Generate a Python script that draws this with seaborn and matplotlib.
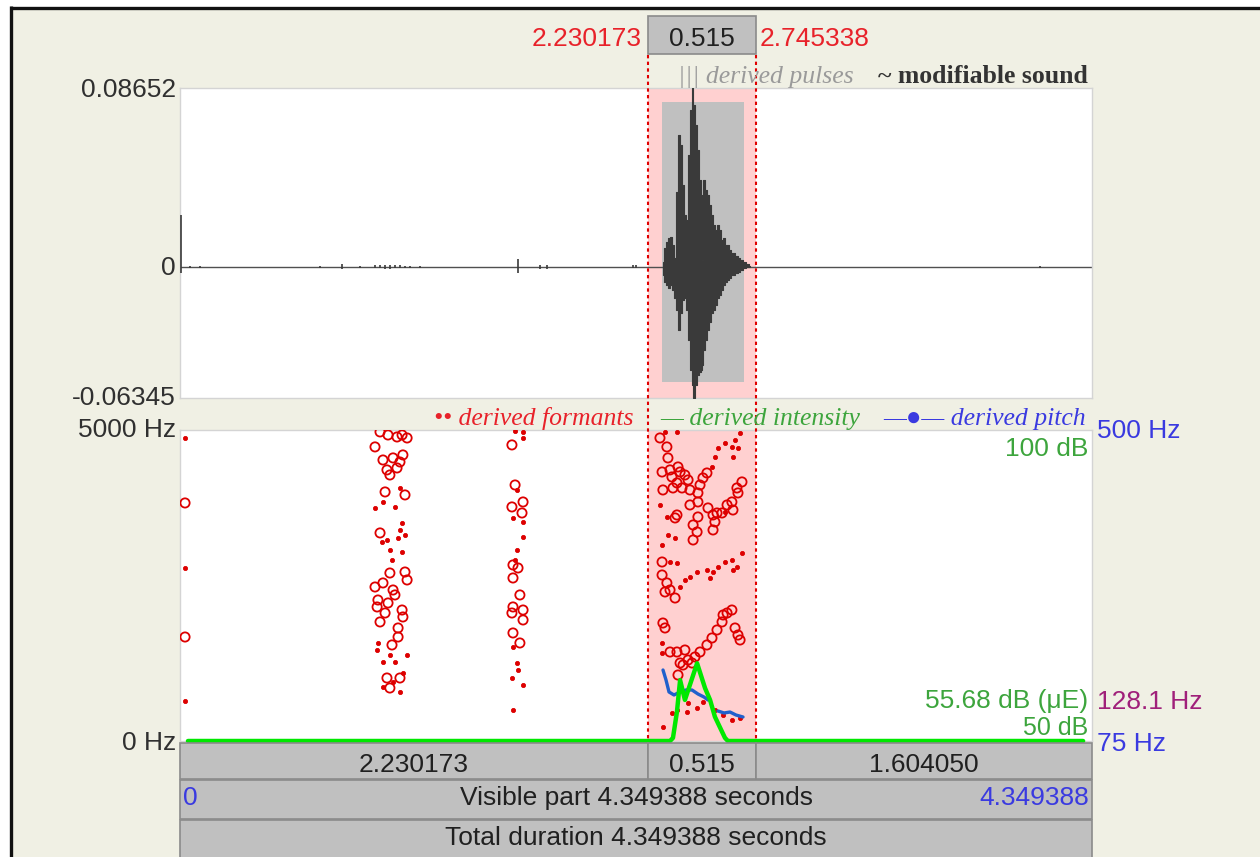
import numpy as np
import matplotlib
matplotlib.use("Agg")
import matplotlib.pyplot as plt
import matplotlib.transforms as mtransforms
from matplotlib.patches import Rectangle
import seaborn as sns

# ---------------- time domain ----------------
total_dur = 4.349388
sel_start = 2.230173
sel_end = 2.745338

# ---------------- waveform ----------------
wave_max = 0.08652
wave_min = -0.06345

burst_t = [2.303, 2.313, 2.322, 2.332, 2.342, 2.351, 2.361, 2.370, 2.380, 2.389,
           2.399, 2.408, 2.418, 2.427, 2.437, 2.442, 2.451, 2.461, 2.470, 2.480,
           2.489, 2.494, 2.499, 2.509, 2.518, 2.528, 2.537, 2.547, 2.556, 2.566,
           2.575, 2.585, 2.594, 2.604, 2.613, 2.623, 2.637, 2.652, 2.666, 2.680,
           2.694, 2.709, 2.718]
burst_hi = [0.0025, 0.0091, 0.0121, 0.0138, 0.0144, 0.0105, 0.0043, 0.0362, 0.0638, 0.0589,
            0.0396, 0.0251, 0.0226, 0.0541, 0.0759, 0.0865, 0.0783, 0.0686, 0.0565, 0.0420,
            0.0348, 0.0033, 0.0420, 0.0372, 0.0348, 0.0299, 0.0251, 0.0202, 0.0178, 0.0202,
            0.0178, 0.0130, 0.0139, 0.0105, 0.0105, 0.0081, 0.0067, 0.0052, 0.0043, 0.0033,
            0.0023, 0.0014, 0.0004]
burst_lo = [-0.0040, -0.0074, -0.0088, -0.0103, -0.0088, -0.0112, -0.0151, -0.0209, -0.0306, -0.0224,
            -0.0161, -0.0151, -0.0209, -0.0354, -0.0499, -0.0572, -0.0634, -0.0572, -0.0523, -0.0509,
            -0.0499, -0.0475, -0.0403, -0.0354, -0.0306, -0.0267, -0.0224, -0.0209, -0.0185, -0.0151,
            -0.0136, -0.0112, -0.0088, -0.0074, -0.0064, -0.0054, -0.0040, -0.0030, -0.0025, -0.0015,
            -0.0006, -0.0002, 0.0]

click_t = [0.005, 0.048, 0.095, 0.668, 0.773, 0.858, 0.930, 0.954, 0.978, 1.001,
           1.025, 1.049, 1.073, 1.097, 1.145, 1.612, 1.717, 1.750, 2.160, 2.175, 4.101]
click_hi = [0.0250, 0.0006, 0.0005, 0.0005, 0.0012, 0.0005, 0.0007, 0.0008, 0.0009, 0.0009,
            0.0008, 0.0007, 0.0006, 0.0005, 0.0004, 0.0040, 0.0010, 0.0010, 0.0008, 0.0008, 0.0006]
click_lo = [-0.0030, -0.0006, -0.0005, -0.0005, -0.0012, -0.0005, -0.0007, -0.0008, -0.0009, -0.0009,
            -0.0008, -0.0007, -0.0006, -0.0005, -0.0004, -0.0030, -0.0010, -0.0010, -0.0008, -0.0008, -0.0006]

# voiced stretch shown as the grey pulse box
pulse_box_t = [2.299, 2.690]
pulse_box_amp = [-0.0557, 0.0797]

# ---------------- formants (Hz) ----------------
fmax = 5000

onset_big_t = [0.024, 0.024]
onset_big_hz = [3827, 1672]
onset_small_t = [0.024, 0.024, 0.024]
onset_small_hz = [4872, 2782, 643]

burst1_big_t = [0.954, 0.992, 1.035, 1.083, 0.930, 1.059, 0.968, 1.016, 1.063, 1.049,
                0.987, 1.035, 1.001, 0.978, 1.073, 0.954, 1.001, 1.073, 1.083, 0.930,
                0.968, 1.016, 0.944, 0.992, 0.940, 1.059, 0.978, 1.063, 0.954, 1.025,
                1.040, 1.040, 1.011, 0.987, 1.049, 1.001]
burst1_big_hz = [4969, 4920, 4888, 4872, 4728, 4920, 4518, 4551, 4599, 4486,
                 4358, 4390, 4277, 4004, 3956, 3345, 2701, 2717, 2589, 2476,
                 2541, 2428, 2267, 2219, 2155, 2106, 2058, 1994, 1914, 2348,
                 1817, 1672, 1544, 1013, 1013, 852]
burst1_small_t = [0.930, 1.025, 0.968, 1.049, 1.059, 0.987, 1.040, 1.073, 0.963, 1.001,
                  1.059, 1.049, 1.011, 0.944, 0.940, 1.001, 1.083, 0.968, 1.025, 1.016,
                  0.968, 1.049, 1.063]
burst1_small_hz = [3747, 3763, 3843, 4068, 3505, 3232, 3264, 3313, 3200, 3071,
                   3039, 3393, 2910, 1576, 1463, 1383, 1383, 1270, 1270, 949,
                   868, 788, 1093]

burst2_big_t = [1.583, 1.598, 1.583, 1.636, 1.631, 1.588, 1.612, 1.588, 1.621, 1.588,
                1.583, 1.636, 1.636, 1.588, 1.621]
burst2_big_hz = [4760, 4116, 3763, 3843, 3666, 2830, 2782, 2621, 2348, 2155,
                 2058, 2106, 1946, 1737, 1576]
burst2_small_t = [1.598, 1.636, 1.636, 1.607, 1.588, 1.636, 1.636, 1.607, 1.598, 1.588,
                  1.607, 1.612, 1.583, 1.636, 1.588]
burst2_small_hz = [4990, 4969, 4872, 4036, 3586, 3522, 3280, 3071, 2910, 1512,
                   1254, 1142, 1013, 900, 498]

vowel_big_t = [2.289, 2.322, 2.327, 2.299, 2.337, 2.346, 2.375, 2.385, 2.408, 2.423,
               2.303, 2.351, 2.394, 2.432, 2.370, 2.470, 2.480, 2.494, 2.513, 2.680,
               2.656, 2.661, 2.432, 2.470, 2.518, 2.542, 2.561, 2.585, 2.609, 2.632,
               2.637, 2.551, 2.542, 2.470, 2.447, 2.466, 2.447, 2.370, 2.361, 2.299,
               2.299, 2.322, 2.337, 2.361, 2.313, 2.303, 2.313, 2.337, 2.370, 2.408,
               2.385, 2.423, 2.456, 2.480, 2.513, 2.537, 2.561, 2.585, 2.609, 2.632,
               2.590, 2.647, 2.661, 2.671, 2.375, 2.399, 2.442]
vowel_big_hz = [4872, 4728, 4551, 4325, 4358, 4245, 4406, 4325, 4277, 4197,
                4036, 4068, 4068, 4036, 4149, 3988, 4116, 4229, 4309, 4165,
                4068, 3988, 3795, 3843, 3747, 3634, 3666, 3666, 3795, 3843,
                3714, 3522, 3393, 3602, 3473, 3361, 3232, 3634, 3586, 2878,
                2669, 2541, 2428, 2299, 2396, 1897, 1817, 1431, 1431, 1463,
                1254, 1302, 1351, 1431, 1544, 1656, 1785, 1914, 2058, 2106,
                2026, 1817, 1704, 1624, 1061, 1222, 1254]
vowel_small_t = [2.313, 2.370, 2.537, 2.551, 2.566, 2.599, 2.632, 2.647, 2.671, 2.637,
                 2.661, 2.599, 2.289, 2.322, 2.327, 2.361, 2.299, 2.337, 2.370, 2.385,
                 2.408, 2.432, 2.466, 2.513, 2.542, 2.566, 2.599, 2.632, 2.656, 2.680,
                 2.637, 2.528, 2.299, 2.299, 2.303, 2.346, 2.370, 2.418, 2.466, 2.494,
                 2.518, 2.551, 2.590, 2.632, 2.671, 2.423]
vowel_small_hz = [4969, 4969, 4406, 4567, 4711, 4792, 4728, 4840, 4953, 4567,
                  4711, 3682, 3795, 3602, 3313, 3264, 3152, 2878, 2862, 2476,
                  2589, 2637, 2717, 2750, 2717, 2798, 2878, 2910, 2798, 3023,
                  2750, 2621, 1576, 1415, 225, 450, 498, 466, 531, 627,
                  691, 498, 418, 338, 370, 611]

# ---------------- intensity (dB) ----------------
int_range = (50, 100)
int_mean_label = "55.68 dB (\u03bcE)"
int_t = [0.038, 2.337, 2.351, 2.370, 2.385, 2.408, 2.466, 2.504, 2.528, 2.551, 2.599, 2.613, 4.307]
int_db = [50.0, 50.0, 50.5, 54.7, 59.8, 56.6, 62.5, 58.5, 56.6, 53.9, 50.5, 50.0, 50.0]

# ---------------- pitch (Hz) ----------------
pitch_range = (75, 500)
pitch_mean = 128.1
pitch1_t = [2.3035, 2.3178, 2.3321, 2.3559, 2.3846, 2.4132, 2.4418, 2.4704, 2.4990, 2.5181]
pitch1_hz = [172.0, 158.4, 142.0, 137.9, 142.0, 144.7, 144.7, 139.2, 135.1, 131.0]
pitch2_t = [2.5658, 2.5944, 2.6230, 2.6516, 2.6850]
pitch2_hz = [116.0, 113.3, 114.6, 110.5, 107.8]

# ---------------- styling ----------------
BEIGE = "#F0F0E4"
RED = "#DD0000"
SEL_FILL = "#FFD0D0"
GREEN_LINE = "#00E800"
PITCH_BLUE = "#2160CC"
WAVE_COL = "#3A3A3A"
BOX_GRAY = "#C0C0C0"
LABEL = "#303030"
TXT_RED = "#E8222A"
TXT_GREEN = "#3DA53D"
TXT_BLUE = "#3A3AE0"
TXT_PURPLE = "#A0207A"
BAR_GRAY = "#C0C0C0"
BAR_EDGE = "#8A8A8A"

sns.set_style("white")
plt.rcParams["font.family"] = ["Liberation Sans", "DejaVu Sans"]
SANS = ["Liberation Sans", "DejaVu Sans"]
SERIF = ["Liberation Serif", "DejaVu Sans"]
FS = 19

W, H = 1260, 857
fig = plt.figure(figsize=(W / 100, H / 100), dpi=100)
fig.patch.set_facecolor("white")


def px_axes(x0, y0, x1, y1, **kw):
    return fig.add_axes([x0 / W, 1 - y1 / H, (x1 - x0) / W, (y1 - y0) / H], **kw)


# window background and frame
bg = fig.add_axes([0, 0, 1, 1], zorder=-10)
bg.set_xlim(0, W)
bg.set_ylim(H, 0)
bg.axis("off")
bg.add_patch(Rectangle((11, 7), W, H, facecolor=BEIGE, edgecolor="none"))
bg.plot([11, 11], [6, H], color="#111111", lw=2.4, solid_capstyle="butt")
bg.plot([10, W], [7.5, 7.5], color="#111111", lw=2.4, solid_capstyle="butt")


def style_panel(ax):
    ax.set_facecolor("white")
    ax.set_xticks([])
    ax.set_yticks([])
    for s in ax.spines.values():
        s.set_color("#D4D4D4")
        s.set_linewidth(1.0)


# ---------------- waveform panel ----------------
ax_wave = px_axes(180, 88, 1092, 398)
style_panel(ax_wave)
ax_wave.axvspan(sel_start, sel_end, color=SEL_FILL, lw=0, zorder=0.5)
ax_wave.fill_between(pulse_box_t, pulse_box_amp[0], pulse_box_amp[1], color=BOX_GRAY, lw=0, zorder=1)
ax_wave.axhline(0, color="#505050", lw=1.0, zorder=2)
ax_wave.fill_between(burst_t, burst_lo, burst_hi, step="mid", color=WAVE_COL, lw=0.8,
                     edgecolor=WAVE_COL, zorder=3)
ax_wave.vlines(click_t, click_lo, click_hi, color=WAVE_COL, lw=1.2, zorder=3)
ax_wave.set_xlim(0, total_dur)
ax_wave.set_ylim(wave_min, wave_max)

# ---------------- analysis panel ----------------
ax_form = px_axes(180, 430, 1092, 741)
style_panel(ax_form)
ax_form.axvspan(sel_start, sel_end, color=SEL_FILL, lw=0, zorder=0.5)

big_t = onset_big_t + burst1_big_t + burst2_big_t + vowel_big_t
big_hz = onset_big_hz + burst1_big_hz + burst2_big_hz + vowel_big_hz
small_t = onset_small_t + burst1_small_t + burst2_small_t + vowel_small_t
small_hz = onset_small_hz + burst1_small_hz + burst2_small_hz + vowel_small_hz

sns.scatterplot(x=big_t, y=big_hz, ax=ax_form, s=44, marker="o", color=RED,
                facecolor="none", edgecolor=RED, linewidth=1.3, zorder=3)
sns.scatterplot(x=small_t, y=small_hz, ax=ax_form, s=9, marker="o", color=RED,
                edgecolor=RED, linewidth=0.6, zorder=3)
ax_form.set_xlim(0, total_dur)
ax_form.set_ylim(0, fmax)
ax_form.set_xticks([])
ax_form.set_yticks([])
ax_form.set_xlabel("")
ax_form.set_ylabel("")


def overlay_twin(ax):
    tw = ax.twinx()
    tw.patch.set_alpha(0)
    for s in tw.spines.values():
        s.set_visible(False)
    return tw


ax_pitch = overlay_twin(ax_form)
sns.lineplot(x=pitch1_t, y=pitch1_hz, ax=ax_pitch, color=PITCH_BLUE, linewidth=2.4,
             estimator=None, sort=False)
sns.lineplot(x=pitch2_t, y=pitch2_hz, ax=ax_pitch, color=PITCH_BLUE, linewidth=2.4,
             estimator=None, sort=False)
ax_pitch.set_ylim(*pitch_range)
ax_pitch.set_xlim(0, total_dur)

ax_int = overlay_twin(ax_form)
sns.lineplot(x=int_t, y=int_db, ax=ax_int, color=GREEN_LINE, linewidth=3.2,
             estimator=None, sort=False, clip_on=False)
ax_int.set_ylim(*int_range)
ax_int.set_xlim(0, total_dur)

for a in (ax_pitch, ax_int):
    a.set_xticks([])
    a.set_yticks([])
    a.set_xlabel("")
    a.set_ylabel("")

# ---------------- foreground: text, selection markers, duration bars ----------------
fg = fig.add_axes([0, 0, 1, 1], zorder=10)
fg.set_xlim(0, W)
fg.set_ylim(H, 0)
fg.axis("off")
fg.patch.set_alpha(0)

tx = mtransforms.blended_transform_factory(ax_wave.transData, fg.transData)


def shifted(dx):
    return mtransforms.offset_copy(tx, fig=fig, x=dx, y=0, units="dots")


def sans(x, y, s, color=LABEL, ha="left", transform=None, size=FS):
    fg.text(x, y, s, color=color, ha=ha, va="baseline", fontsize=size, zorder=8,
            family=SANS, transform=transform if transform is not None else fg.transData)


def serif(x, y, s, color, ha="left", style="italic", weight="normal", size=18.5):
    fg.text(x, y, s, color=color, ha=ha, va="baseline", fontsize=size, zorder=8,
            family=SERIF, style=style, weight=weight)


# selection boundaries
for t in (sel_start, sel_end):
    fg.plot([t, t], [55, 741], transform=tx, color="#E00000", lw=1.5,
            linestyle=(0, (1.6, 1.6)), zorder=5)

# top selection readout
fg.add_patch(Rectangle((sel_start, 16), sel_end - sel_start, 38, transform=tx,
                       facecolor=BAR_GRAY, edgecolor=BAR_EDGE, lw=1.2, zorder=4))
sans(sel_start, 46, f"{sel_start:.6f}", TXT_RED, "right", shifted(-6))
sans((sel_start + sel_end) / 2, 46, f"{sel_end - sel_start:.3f}", "#202020", "center", tx)
sans(sel_end, 46, f"{sel_end:.6f}", TXT_RED, "left", shifted(4))

# layer titles
serif(678, 83, "||| derived pulses", "#9A9A9A")
serif(1088, 83, "~ modifiable sound", "#333333", ha="right", style="normal", weight="bold")
serif(633, 425, "\u2022\u2022 derived formants", TXT_RED, ha="right")
serif(660, 425, "\u2014 derived intensity", TXT_GREEN)
serif(1086, 425, "\u2014\u25cf\u2014 derived pitch", TXT_BLUE, ha="right")

# left axis labels
sans(176, 97, f"{wave_max:.5f}", ha="right")
sans(176, 275, "0", ha="right")
sans(176, 405, f"{wave_min:.5f}", ha="right")
sans(176, 437, f"{fmax} Hz", ha="right")
sans(176, 750, "0 Hz", ha="right")

# right axis labels
sans(1097, 438, f"{pitch_range[1]} Hz", TXT_BLUE)
sans(1088, 456, f"{int_range[1]} dB", TXT_GREEN, "right")
sans(1088, 708, int_mean_label, TXT_GREEN, "right")
sans(1088, 735, f"{int_range[0]} dB", TXT_GREEN, "right", size=18)
sans(1097, 709, f"{pitch_mean} Hz", TXT_PURPLE)
sans(1097, 751, f"{pitch_range[0]} Hz", TXT_BLUE)

# duration bars
segments = [(0, sel_start), (sel_start, sel_end), (sel_end, total_dur)]
for a, b in segments:
    fg.add_patch(Rectangle((a, 743), b - a, 36, transform=tx, facecolor=BAR_GRAY,
                           edgecolor=BAR_EDGE, lw=1.2))
    dur = b - a
    lbl = f"{dur:.3f}" if (a, b) == (sel_start, sel_end) else f"{dur:.6f}"
    sans((a + b) / 2, 772, lbl, "#202020", "center", tx)

fg.add_patch(Rectangle((0, 780), total_dur, 39, transform=tx, facecolor=BAR_GRAY,
                       edgecolor=BAR_EDGE, lw=1.2))
sans(0, 805, "0", TXT_BLUE, "left", shifted(3))
sans(total_dur / 2, 805, f"Visible part {total_dur:.6f} seconds", "#202020", "center", tx)
sans(total_dur, 805, f"{total_dur:.6f}", TXT_BLUE, "right", shifted(-3))

fg.add_patch(Rectangle((0, 820), total_dur, 45, transform=tx, facecolor=BAR_GRAY,
                       edgecolor=BAR_EDGE, lw=1.2))
sans(total_dur / 2, 845, f"Total duration {total_dur:.6f} seconds", "#202020", "center", tx)

fig.savefig("out.png", dpi=100, facecolor=fig.get_facecolor())
